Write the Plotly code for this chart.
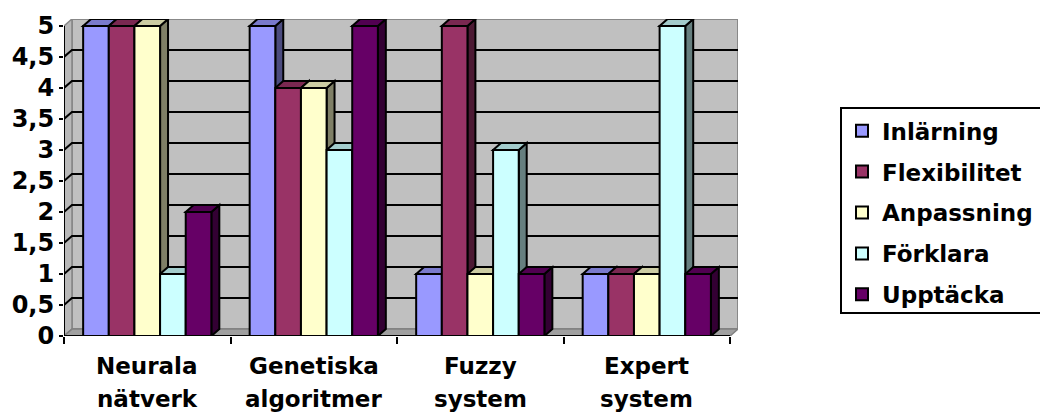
import plotly.graph_objects as go

# ---------------- data ----------------
categories = ["Neurala nätverk", "Genetiska algoritmer", "Fuzzy system", "Expert system"]
series_names = ["Inlärning", "Flexibilitet", "Anpassning", "Förklara", "Upptäcka"]
inlarning = [5, 5, 1, 1]
flexibilitet = [5, 4, 5, 1]
anpassning = [5, 4, 1, 1]
forklara = [1, 3, 3, 5]
upptacka = [2, 5, 1, 1]
y_tickvals = [0, 0.5, 1, 1.5, 2, 2.5, 3, 3.5, 4, 4.5, 5]
y_ticktext = ["0", "0,5", "1", "1,5", "2", "2,5", "3", "3,5", "4", "4,5", "5"]

series_values = [inlarning, flexibilitet, anpassning, forklara, upptacka]
front_colors = ["#9999FF", "#993366", "#FFFFCC", "#CCFFFF", "#660066"]

# ---------------- geometry / style ----------------
W, H = 1040, 413
front_left, front_right, front_top, front_bottom = 60, 730, 22, 336
DX, DY = 8, 7  # 3D depth in pixels
ncat = len(categories)
ymax = y_tickvals[-1]
kx = (front_right - front_left) / ncat
ky = (front_bottom - front_top) / ymax
dx = DX / kx
dy = DY / ky
group_frac = 0.77
nser = len(series_names)
bw = group_frac / nser


def shade(hexcol, f):
    h = hexcol.lstrip("#")
    r, g, b = (int(h[i:i + 2], 16) for i in (0, 2, 4))
    return "#%02x%02x%02x" % (int(r * f), int(g * f), int(b * f))


FONT = dict(family="DejaVu Sans", color="black", weight="bold")

fig = go.Figure()
shapes = []

# walls and floor
x0, x1 = -0.5, ncat - 0.5
shapes.append(dict(type="rect", xref="x", yref="y", x0=x0 + dx, x1=x1 + dx, y0=dy, y1=ymax + dy,
                   fillcolor="#C0C0C0", line=dict(color="#888888", width=2), layer="below"))
shapes.append(dict(type="path", xref="x", yref="y",
                   path=f"M{x0},0 L{x0},{ymax} L{x0+dx},{ymax+dy} L{x0+dx},{dy} Z",
                   fillcolor="#B8B8B8", line=dict(color="#888888", width=1.5), layer="below"))
shapes.append(dict(type="path", xref="x", yref="y",
                   path=f"M{x0},0 L{x1},0 L{x1+dx},{dy} L{x0+dx},{dy} Z",
                   fillcolor="#A0A0A0", line=dict(color="#808080", width=1.5), layer="below"))
# gridlines on the walls
for t in y_tickvals[1:-1]:
    shapes.append(dict(type="path", xref="x", yref="y",
                       path=f"M{x0},{t} L{x0+dx},{t+dy} L{x1+dx},{t+dy}",
                       line=dict(color="black", width=2), layer="below"))

# bars (front faces via traces) + 3D side/top faces
for i, (name, vals, col) in enumerate(zip(series_names, series_values, front_colors)):
    off = -group_frac / 2 + i * bw
    fig.add_trace(go.Bar(
        x=list(range(ncat)), y=vals, name=name, legendgroup=name,
        width=bw, offset=off,
        marker=dict(color=col, line=dict(color="black", width=2)),
    ))
    for c, v in enumerate(vals):
        xl = c + off
        xr = xl + bw
        shapes.append(dict(type="path", xref="x", yref="y",
                           path=f"M{xr},0 L{xr},{v} L{xr+dx},{v+dy} L{xr+dx},{dy} Z",
                           fillcolor=shade(col, 0.5), line=dict(color="black", width=2), layer="below"))
        shapes.append(dict(type="path", xref="x", yref="y",
                           path=f"M{xl},{v} L{xr},{v} L{xr+dx},{v+dy} L{xl+dx},{v+dy} Z",
                           fillcolor=shade(col, 0.8), line=dict(color="black", width=2), layer="below"))

# axis lines on the front plane
shapes.append(dict(type="line", xref="x", yref="y", x0=x0, x1=x0, y0=0, y1=ymax,
                   line=dict(color="black", width=2), layer="above"))
shapes.append(dict(type="line", xref="x", yref="y", x0=x0, x1=x1, y0=0, y1=0,
                   line=dict(color="black", width=2), layer="above"))

# category labels (two lines each) below the axis
annotations = []
for c, cat in enumerate(categories):
    for j, part in enumerate(cat.split(" ")):
        annotations.append(dict(
            xref="x", yref="y", x=c, y=0, text=part, showarrow=False,
            xanchor="center", yanchor="middle", yshift=-30 - 33 * j,
            font=dict(size=23, **FONT),
        ))

fig.update_layout(
    width=W, height=H,
    margin=dict(l=front_left, r=W - (front_right + DX), t=front_top - DY, b=H - front_bottom, pad=0),
    paper_bgcolor="white", plot_bgcolor="white",
    barmode="overlay",
    shapes=shapes,
    annotations=annotations,
    font=dict(family="DejaVu Sans", color="black"),
    xaxis=dict(
        range=[x0, x1 + dx], tickmode="array",
        tickvals=[k - 0.5 for k in range(ncat + 1)], ticktext=[""] * (ncat + 1),
        ticks="outside", ticklen=7, tickwidth=2, tickcolor="black",
        showgrid=False, zeroline=False, showline=False,
    ),
    yaxis=dict(
        range=[0, ymax + dy], tickmode="array", tickvals=y_tickvals, ticktext=y_ticktext,
        ticks="outside", ticklen=4, tickwidth=2, tickcolor="black",
        showgrid=False, zeroline=False, showline=False,
        tickfont=dict(size=24, **FONT),
    ),
    legend=dict(
        xref="container", yref="container", x=840 / W, y=1 - 210.5 / H,
        xanchor="left", yanchor="middle",
        bordercolor="black", borderwidth=2, bgcolor="white",
        font=dict(size=23, **FONT), tracegroupgap=8, traceorder="grouped",
    ),
    showlegend=True,
)

fig.write_html("out.html")
